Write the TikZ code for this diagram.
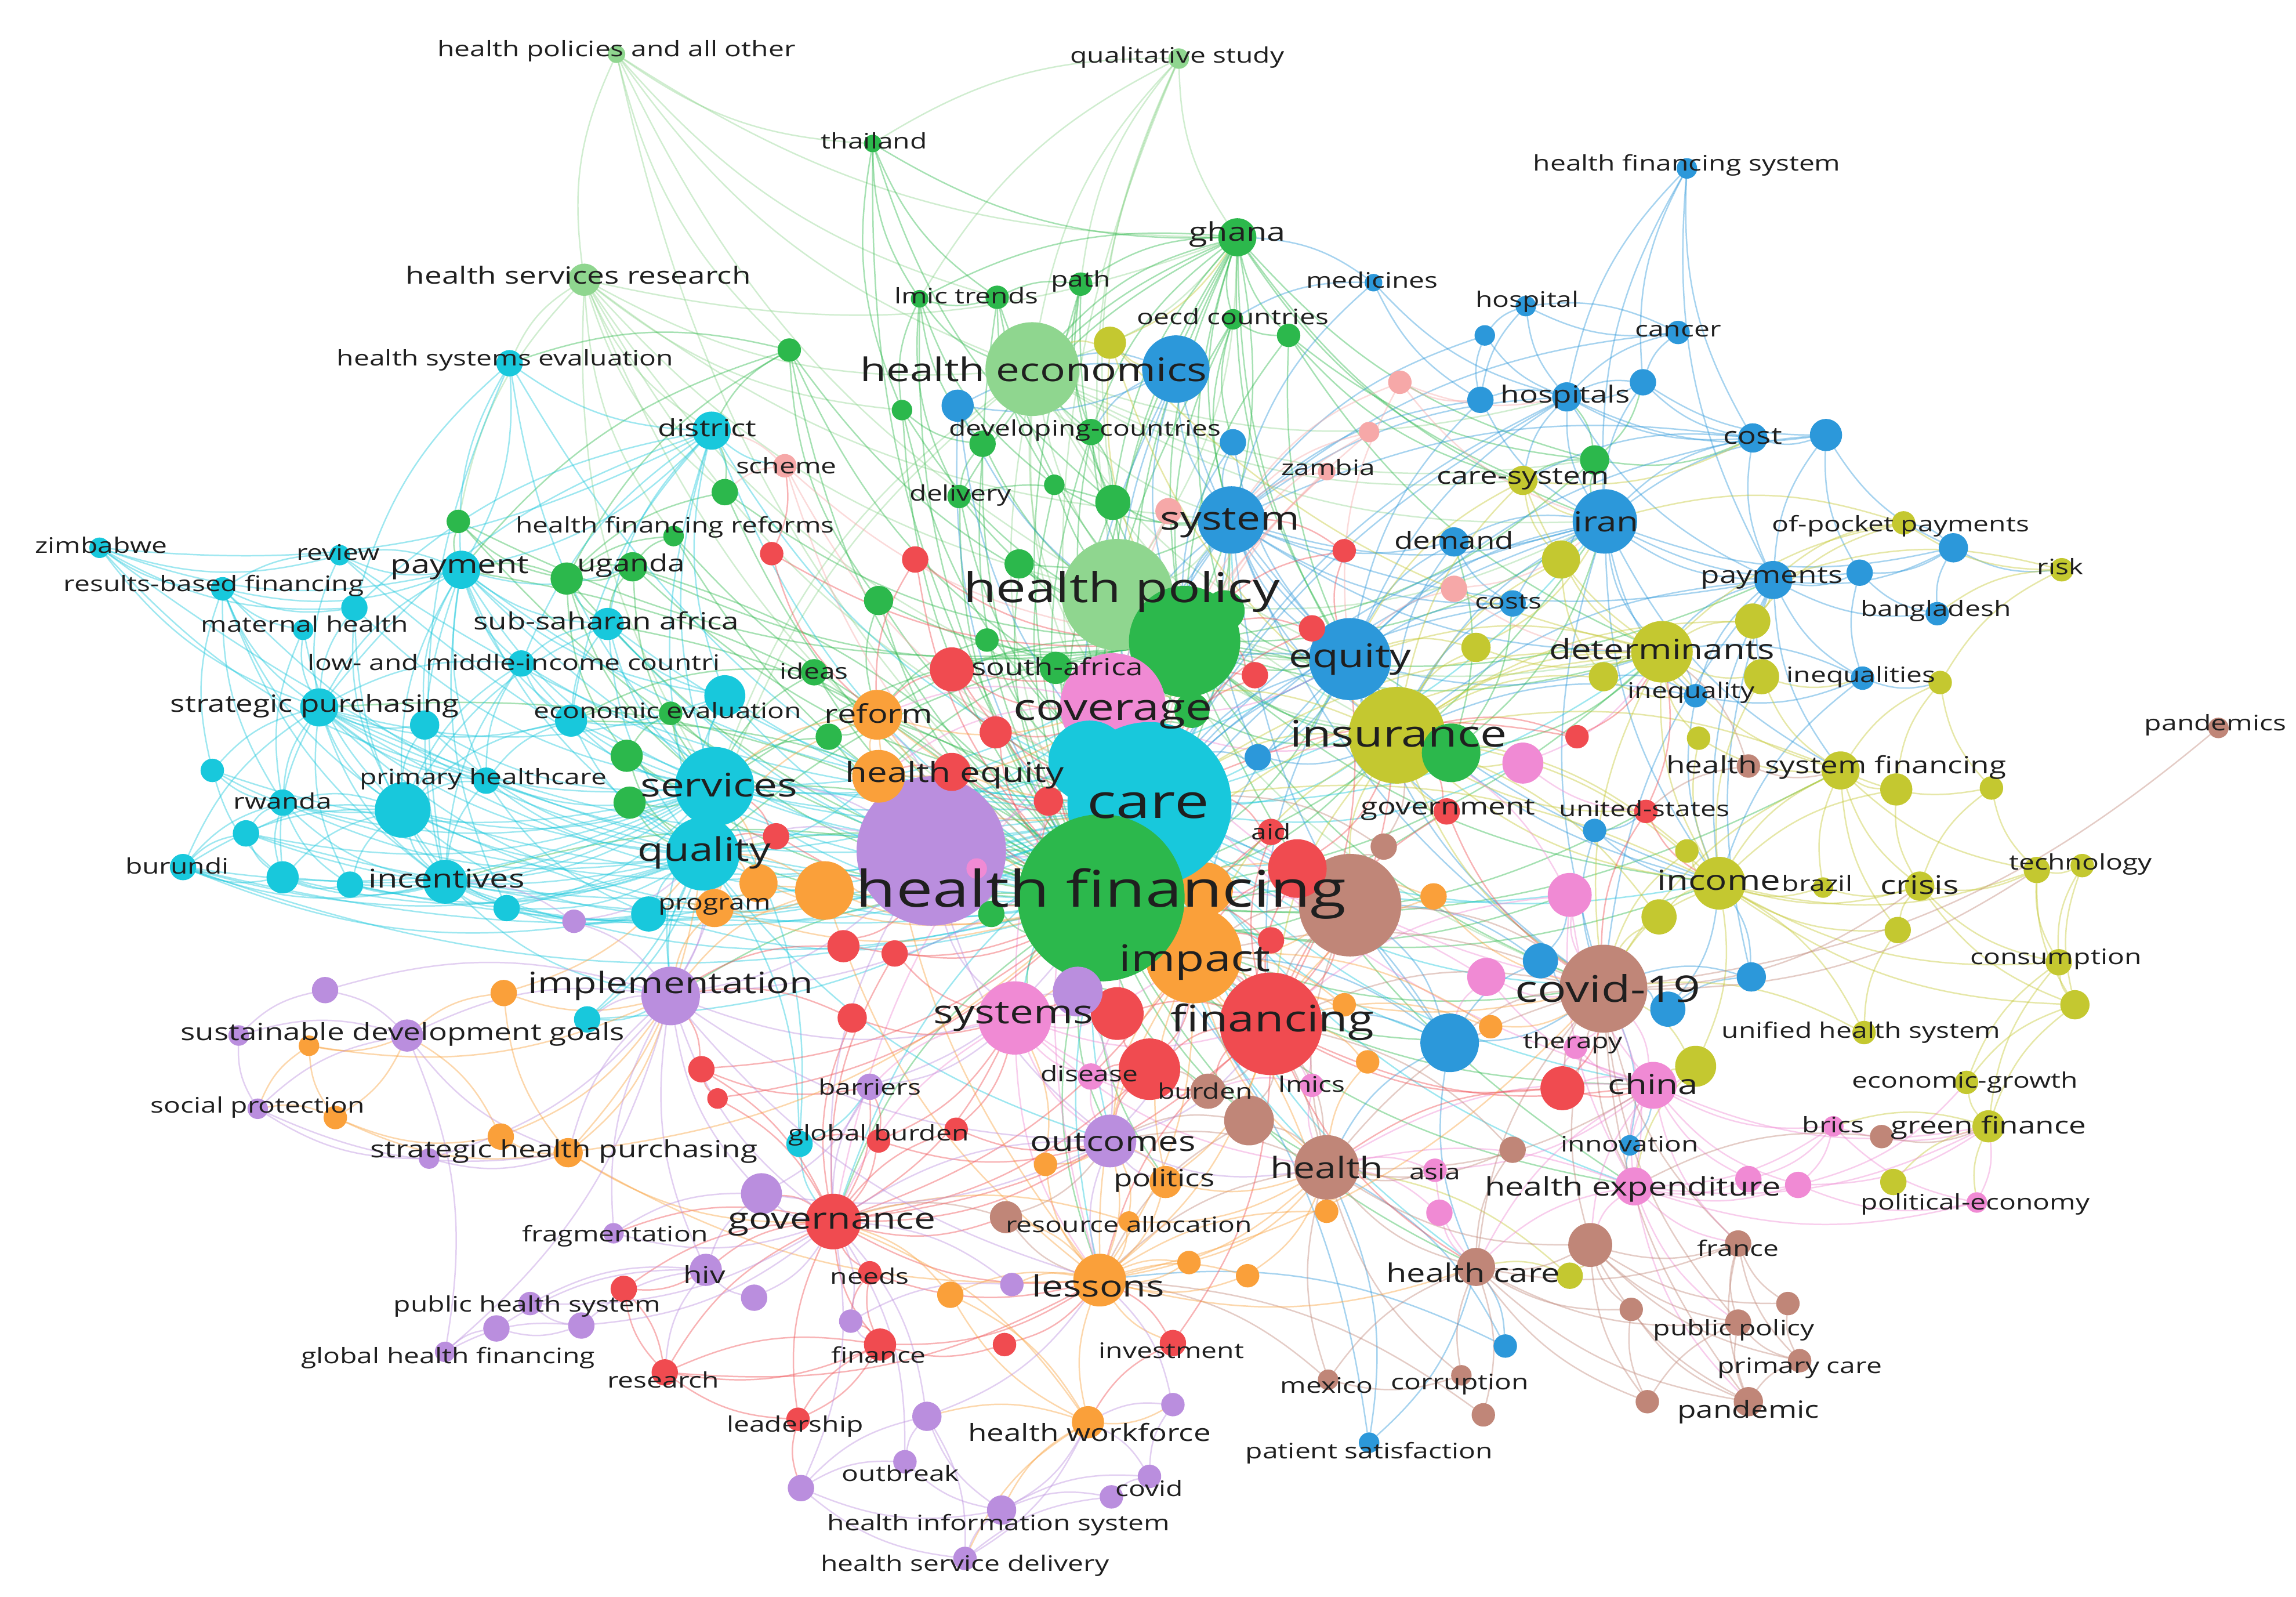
\documentclass[tikz,border=0pt]{standalone}
\usepackage{fontspec}
\setmainfont{Open Sans}[FakeStretch=1.3]
\pgfdeclarelayer{bglayer}
\pgfdeclarelayer{edgelayer}
\pgfdeclarelayer{labellayer}
\pgfsetlayers{bglayer,edgelayer,main,labellayer}
\definecolor{cR}{RGB}{240,75,80}
\definecolor{cG}{RGB}{44,184,76}
\definecolor{cLG}{RGB}{143,214,143}
\definecolor{cB}{RGB}{44,152,218}
\definecolor{cC}{RGB}{24,200,220}
\definecolor{cY}{RGB}{196,200,48}
\definecolor{cP}{RGB}{186,142,222}
\definecolor{cO}{RGB}{250,160,58}
\definecolor{cBr}{RGB}{192,134,120}
\definecolor{cPk}{RGB}{240,138,212}
\definecolor{cS}{RGB}{246,168,168}
\newcommand\szA{\fontsize{10.4pt}{12pt}\selectfont}
\newcommand\szB{\fontsize{11.5pt}{13pt}\selectfont}
\newcommand\szC{\fontsize{12.5pt}{14pt}\selectfont}
\newcommand\szD{\fontsize{13.4pt}{15pt}\selectfont}
\newcommand\szE{\fontsize{14.3pt}{16pt}\selectfont}
\newcommand\szF{\fontsize{15.8pt}{18pt}\selectfont}
\newcommand\szG{\fontsize{17.8pt}{20pt}\selectfont}
\newcommand\szH{\fontsize{20pt}{22pt}\selectfont}
\newcommand\szI{\fontsize{23pt}{25pt}\selectfont}
\newcommand\szJ{\fontsize{24.5pt}{27pt}\selectfont}
\newcommand\kn[5]{\node[nd=#4,fill=#5] (#1) at (#2,#3) {};}
\newcommand\klab[5]{\node[lab,font=#4] (L#1) at (#2,#3) {#5};}
\newcommand\kedges[3]{\foreach \kt in {#3}{\draw[edge,draw=#1] (#2) to[bend right=16] (\kt);}}
\begin{document}
\begin{tikzpicture}[x=0.025cm,y=-0.025cm,
  nd/.style={circle,inner sep=0pt,outer sep=0pt,draw=none,minimum size=#1*0.05cm},
  lab/.style={inner sep=0pt,outer sep=0pt,text=black!88},
  edge/.style={line width=0.7pt,opacity=0.42}]
\begin{pgfonlayer}{bglayer}
\fill[white] (0,0) rectangle (1568,1090);
\end{pgfonlayer}
\useasboundingbox (0,0) rectangle (1568,1090);
% ---------- large nodes (ordered) ----------
\kn{hpolLG}{763}{406}{38}{cLG}
\kn{hpol}{809}{438}{38}{cG}
\kn{hecon}{705}{252}{32}{cLG}
\kn{b1}{803}{252}{23}{cB}
\kn{brbig}{922}{618}{35}{cBr}
\kn{r15}{886}{593}{20}{cR}
\kn{impact}{815}{652}{33}{cO}
\kn{o13}{824}{607}{18}{cO}
\kn{purpbig}{636}{581}{51}{cP}
\kn{coverage}{760}{482}{36}{cPk}
\kn{c13}{744}{520}{28}{cC}
\kn{care}{785}{549}{56}{cC}
\kn{hf}{752}{613}{57}{cG}
\kn{insur}{954}{502}{33}{cY}
\kn{g16}{991}{514}{20}{cG}
\kn{equity}{922}{450}{28}{cB}
\kn{financing}{868}{699}{35}{cR}
\kn{covid19}{1095}{675}{30}{cBr}
\kn{systems}{693}{695}{25}{cPk}
\kn{services}{488}{537}{27}{cC}
\kn{quality}{480}{583}{25}{cC}
\kn{system}{841}{355}{23}{cB}
\kn{iran}{1096}{356}{22}{cB}
\kn{health}{906}{797}{22}{cBr}
\kn{determ}{1135}{445}{21}{cY}
\kn{impl}{458}{680}{20}{cP}
\kn{gov}{569}{834}{19}{cR}
\kn{r4}{785}{730}{21}{cR}
\kn{r17}{763}{692}{18}{cR}
\kn{p15}{736}{677}{17}{cP}
\kn{b15}{990}{712}{20}{cB}
\kn{outcomes}{758}{779}{18}{cP}
\kn{lessons}{751}{874}{18}{cO}
\kn{income}{1174}{603}{18}{cY}
\kn{c5}{275}{553}{19}{cC}
\kn{o12}{563}{608}{20}{cO}
\kn{heq}{600}{530}{18}{cO}
\kn{reform}{599}{488}{17}{cO}
\kn{br1}{853}{765}{17}{cBr}
% ---------- other nodes ----------
\kn{hpao}{421}{37}{6}{cLG}
\kn{qual}{805}{40}{7}{cLG}
\kn{thai}{596}{98}{6}{cG}
\kn{hfs}{1152}{115}{7}{cB}
\kn{ghana}{845}{162}{13}{cG}
\kn{hsr}{399}{191}{11}{cLG}
\kn{medic}{938}{193}{6}{cB}
\kn{lmic}{628}{204}{6}{cG}
\kn{lmicB}{681}{203}{8}{cG}
\kn{path}{738}{194}{8}{cG}
\kn{oecd}{842}{218}{7}{cG}
\kn{g1}{880}{229}{8}{cG}
\kn{y1}{758}{234}{11}{cY}
\kn{hosp}{1042}{209}{7}{cB}
\kn{cancer}{1146}{227}{8}{cB}
\kn{hosps}{1070}{271}{10}{cB}
\kn{b2}{1122}{261}{9}{cB}
\kn{b3}{1014}{229}{7}{cB}
\kn{s1}{956}{261}{8}{cS}
\kn{b4}{1011}{273}{9}{cB}
\kn{b5}{654}{277}{11}{cB}
\kn{g2}{616}{280}{7}{cG}
\kn{g3}{539}{239}{8}{cG}
\kn{devc}{745}{295}{9}{cG}
\kn{g4}{671}{303}{9}{cG}
\kn{b6}{842}{302}{9}{cB}
\kn{s2}{935}{295}{7}{cS}
\kn{zambia}{906}{322}{6}{cS}
\kn{scheme}{536}{318}{8}{cS}
\kn{deliv}{655}{339}{8}{cG}
\kn{g5}{720}{331}{7}{cG}
\kn{g6}{760}{343}{12}{cG}
\kn{s3}{798}{349}{9}{cS}
\kn{csys}{1040}{328}{10}{cY}
\kn{g7}{1089}{314}{10}{cG}
\kn{cost}{1197}{299}{10}{cB}
\kn{b7}{1247}{297}{11}{cB}
\kn{oop}{1300}{357}{8}{cY}
\kn{hse}{348}{248}{9}{cC}
\kn{district}{486}{294}{13}{cC}
\kn{g8}{495}{336}{9}{cG}
\kn{g9}{313}{356}{8}{cG}
\kn{hfr}{460}{366}{7}{cG}
\kn{zimb}{68}{374}{7}{cC}
\kn{review}{232}{379}{7}{cC}
\kn{payment}{315}{389}{13}{cC}
\kn{g10}{387}{395}{11}{cG}
\kn{uganda}{432}{387}{10}{cG}
\kn{rbf}{152}{402}{8}{cC}
\kn{c1}{242}{415}{9}{cC}
\kn{mat}{207}{430}{7}{cC}
\kn{ssa}{415}{426}{11}{cC}
\kn{lmi}{356}{453}{9}{cC}
\kn{strat}{218}{483}{13}{cC}
\kn{c2}{290}{495}{10}{cC}
\kn{econ}{390}{492}{11}{cC}
\kn{g11}{458}{487}{8}{cG}
\kn{c3}{495}{475}{14}{cC}
\kn{g12}{428}{516}{11}{cG}
\kn{c4}{145}{526}{8}{cC}
\kn{phc}{332}{533}{9}{cC}
\kn{rwanda}{193}{548}{9}{cC}
\kn{g13}{430}{548}{11}{cG}
\kn{c6}{168}{569}{9}{cC}
\kn{burundi}{125}{592}{9}{cC}
\kn{c7}{193}{599}{11}{cC}
\kn{c8}{239}{604}{9}{cC}
\kn{incent}{304}{602}{15}{cC}
\kn{c9}{346}{620}{9}{cC}
\kn{o1}{518}{603}{13}{cO}
\kn{c10}{443}{624}{12}{cC}
\kn{program}{488}{620}{13}{cO}
\kn{p1}{392}{629}{8}{cP}
\kn{o2}{344}{678}{9}{cO}
\kn{p2}{222}{676}{9}{cP}
\kn{c11}{401}{696}{9}{cC}
\kn{sdg}{278}{707}{11}{cP}
\kn{p3}{163}{707}{7}{cP}
\kn{o3}{211}{714}{7}{cO}
\kn{r0}{530}{571}{9}{cR}
\kn{socp}{176}{757}{7}{cP}
\kn{o4}{229}{763}{8}{cO}
\kn{o5}{342}{776}{9}{cO}
\kn{p4}{293}{791}{7}{cP}
\kn{shp}{388}{787}{10}{cO}
\kn{r1}{479}{730}{9}{cR}
\kn{r2}{490}{750}{7}{cR}
\kn{p5}{520}{815}{14}{cP}
\kn{frag}{419}{842}{7}{cP}
\kn{hiv}{482}{867}{11}{cP}
\kn{r3}{426}{880}{9}{cR}
\kn{phs}{362}{890}{8}{cP}
\kn{p6}{339}{907}{9}{cP}
\kn{p7}{397}{905}{9}{cP}
\kn{p8}{515}{886}{9}{cP}
\kn{ghf}{304}{923}{7}{cP}
\kn{research}{454}{937}{9}{cR}
\kn{barriers}{594}{742}{9}{cP}
\kn{disease}{745}{735}{9}{cPk}
\kn{burden}{825}{745}{12}{cBr}
\kn{lmics}{896}{741}{8}{cPk}
\kn{c12}{546}{781}{9}{cC}
\kn{gburden}{600}{779}{8}{cR}
\kn{r5}{653}{771}{8}{cR}
\kn{o6}{714}{795}{8}{cO}
\kn{politics}{796}{807}{11}{cO}
\kn{asia}{980}{799}{8}{cPk}
\kn{br2}{1033}{785}{9}{cBr}
\kn{o7}{906}{827}{8}{cO}
\kn{pk1}{983}{828}{9}{cPk}
\kn{br3}{687}{831}{11}{cBr}
\kn{resal}{771}{834}{7}{cO}
\kn{needs}{594}{869}{8}{cR}
\kn{p9}{691}{877}{8}{cP}
\kn{o8}{649}{884}{9}{cO}
\kn{o9}{812}{862}{8}{cO}
\kn{o10}{852}{871}{8}{cO}
\kn{p10}{581}{902}{8}{cP}
\kn{finance}{601}{918}{11}{cR}
\kn{r6}{686}{918}{8}{cR}
\kn{invest}{801}{917}{9}{cR}
\kn{mexico}{907}{942}{7}{cBr}
\kn{corrup}{998}{939}{7}{cBr}
\kn{b8}{1028}{919}{8}{cB}
\kn{leader}{545}{969}{8}{cR}
\kn{p11}{633}{967}{10}{cP}
\kn{hwf}{743}{971}{11}{cO}
\kn{p12}{801}{959}{8}{cP}
\kn{br4}{1013}{966}{8}{cBr}
\kn{patsat}{935}{985}{7}{cB}
\kn{outbreak}{618}{998}{8}{cP}
\kn{covid}{785}{1008}{8}{cP}
\kn{p13}{547}{1016}{9}{cP}
\kn{p14}{759}{1022}{8}{cP}
\kn{his}{684}{1031}{10}{cP}
\kn{hsd}{659}{1064}{8}{cP}
\kn{china}{1129}{741}{16}{cPk}
\kn{r7}{1067}{743}{15}{cR}
\kn{y2}{1158}{728}{14}{cY}
\kn{innov}{1113}{782}{7}{cB}
\kn{hexp}{1116}{810}{13}{cPk}
\kn{pk2}{1194}{805}{9}{cPk}
\kn{pk3}{1228}{809}{9}{cPk}
\kn{brics}{1252}{769}{7}{cPk}
\kn{br5}{1285}{776}{8}{cBr}
\kn{gfin}{1358}{769}{11}{cY}
\kn{egrowth}{1343}{739}{8}{cY}
\kn{y3}{1293}{807}{9}{cY}
\kn{peco}{1350}{821}{7}{cPk}
\kn{br6}{1086}{850}{15}{cBr}
\kn{france}{1187}{849}{9}{cBr}
\kn{y4}{1072}{871}{9}{cY}
\kn{br7}{1114}{894}{8}{cBr}
\kn{br8}{1221}{890}{8}{cBr}
\kn{pubpol}{1187}{903}{9}{cBr}
\kn{pcare}{1229}{929}{8}{cBr}
\kn{br9}{1125}{957}{8}{cBr}
\kn{pandemic}{1194}{957}{10}{cBr}
\kn{hcare}{1008}{865}{13}{cBr}
\kn{therapy}{1076}{715}{8}{cPk}
\kn{y5}{1066}{382}{13}{cY}
\kn{payments}{1211}{396}{13}{cB}
\kn{b9}{1270}{391}{9}{cB}
\kn{b10}{1334}{374}{10}{cB}
\kn{risk}{1408}{389}{8}{cY}
\kn{bangla}{1323}{419}{8}{cB}
\kn{y6}{1197}{424}{12}{cY}
\kn{y7}{1095}{462}{10}{cY}
\kn{y8}{1203}{462}{12}{cY}
\kn{ineq}{1158}{475}{8}{cB}
\kn{ineqs}{1272}{463}{8}{cB}
\kn{y9}{1325}{466}{8}{cY}
\kn{r8}{1077}{503}{8}{cR}
\kn{y10}{1160}{504}{8}{cY}
\kn{pandemics}{1515}{497}{7}{cBr}
\kn{br10}{1194}{523}{8}{cBr}
\kn{hsf}{1257}{526}{13}{cY}
\kn{y11}{1295}{539}{11}{cY}
\kn{y12}{1360}{538}{8}{cY}
\kn{us}{1124}{554}{8}{cR}
\kn{b11}{1089}{567}{8}{cB}
\kn{y13}{1152}{581}{8}{cY}
\kn{brazil}{1245}{606}{7}{cY}
\kn{crisis}{1311}{605}{10}{cY}
\kn{techno}{1391}{594}{9}{cY}
\kn{y14}{1422}{591}{8}{cY}
\kn{pk4}{1072}{611}{15}{cPk}
\kn{y15}{1133}{626}{12}{cY}
\kn{y16}{1296}{635}{9}{cY}
\kn{consum}{1406}{657}{9}{cY}
\kn{y17}{1417}{686}{10}{cY}
\kn{b12}{1196}{667}{10}{cB}
\kn{b13}{1139}{689}{12}{cB}
\kn{b14}{1052}{656}{12}{cB}
\kn{uhs}{1273}{705}{8}{cY}
\kn{pk5}{1015}{667}{13}{cPk}
\kn{o11}{1018}{701}{8}{cO}
\kn{g14}{814}{485}{12}{cG}
\kn{g15}{836}{417}{14}{cG}
\kn{r9}{896}{429}{9}{cR}
\kn{r10}{857}{461}{9}{cR}
\kn{b16}{859}{517}{9}{cB}
\kn{r11}{650}{457}{15}{cR}
\kn{safr}{721}{456}{11}{cG}
\kn{g18}{566}{503}{9}{cG}
\kn{r12}{680}{500}{11}{cR}
\kn{r13}{650}{527}{13}{cR}
\kn{r14}{716}{547}{10}{cR}
\kn{pk6}{667}{593}{7}{cPk}
\kn{g19}{677}{624}{9}{cG}
\kn{aid}{868}{568}{9}{cR}
\kn{govt}{988}{554}{9}{cR}
\kn{br11}{945}{578}{9}{cBr}
\kn{o14}{979}{612}{9}{cO}
\kn{r16}{868}{642}{9}{cR}
\kn{o15}{918}{686}{8}{cO}
\kn{o16}{934}{725}{8}{cO}
\kn{r18}{576}{646}{11}{cR}
\kn{r19}{611}{651}{9}{cR}
\kn{r20}{582}{695}{10}{cR}
\kn{ideas}{556}{459}{9}{cG}
\kn{g20}{600}{410}{10}{cG}
\kn{g21}{696}{385}{10}{cG}
\kn{g22}{674}{437}{8}{cG}
\kn{r21}{625}{382}{9}{cR}
\kn{r22}{527}{378}{8}{cR}
\kn{r23}{918}{376}{8}{cR}
\kn{s4}{993}{402}{9}{cS}
\kn{costs}{1033}{412}{9}{cB}
\kn{demand}{993}{370}{10}{cB}
\kn{y18}{1008}{442}{10}{cY}
\kn{pk7}{1040}{521}{14}{cPk}
% ---------- edges ----------
\begin{pgfonlayer}{edgelayer}
% light green
\kedges{cLG}{hpao}{hsr,hecon,hpolLG,thai,lmicB,g3,hf,ghana}
\kedges{cLG}{qual}{ghana,hecon,lmic,thai,hpolLG,path,g6,hf}
\kedges{cLG}{hsr}{hse,hecon,hpolLG,hf,care,district,g8,hfr,ghana,services,coverage,system,g2,g9}
\kedges{cLG}{hecon}{hf,care,hpol,coverage,system,equity,insur,ghana,path,devc,iran,g7,csys,services,quality,hosps}
\kedges{cLG}{hpolLG}{hf,care,insur,equity,iran,determ,covid19,impact,financing,system,ghana}
% green
\kedges{cG}{thai}{lmic,lmicB,ghana,g2,hf,g6}
\kedges{cG}{ghana}{path,oecd,g1,hecon,hpol,hf,devc,g6,system,lmic,g7,care,insur,equity,csys,iran,g4,deliv,coverage,g15}
\kedges{cG}{lmic}{lmicB,g4,g2,deliv,hf,hecon,g5}
\kedges{cG}{lmicB}{g5,hpol,hf,devc}
\kedges{cG}{path}{g6,hpol,hf,lmicB,devc}
\kedges{cG}{oecd}{g1,hpol,system,hf,b6}
\kedges{cG}{g1}{csys,g7,hpol,insur,determ}
\kedges{cG}{g3}{hse,district,hf,hpol,payment,g10,coverage,g20}
\kedges{cG}{g2}{hf,hpol,g4,care}
\kedges{cG}{g4}{hf,hpol,deliv}
\kedges{cG}{g5}{hpol,hf,system}
\kedges{cG}{g6}{system,hpol,hf,devc,deliv}
\kedges{cG}{g7}{csys,iran,cost,hosps,b2}
\kedges{cG}{g8}{district,hf,hpol,g10}
\kedges{cG}{g9}{payment,hpol,hf,g10}
\kedges{cG}{hfr}{hf,care,g10,uganda}
\kedges{cG}{hpol}{hf,care,coverage,insur,equity,g16,determ,iran,system,reform,heq,services,quality,impact,financing,covid19,hexp,g7,ghana,g14,payments,income}
\kedges{cG}{hf}{care,coverage,insur,equity,services,quality,impact,financing,systems,covid19,brbig,purpbig,reform,heq,gov,lessons,outcomes,health,impl,china,hexp,income,determ,iran,system,payment,uganda,ssa,econ,strat,incent,r15,r17,hcare,politics,burden,pk4,b15,hsf,us,govt,aid}
\kedges{cG}{g10}{uganda,payment,ssa,services,g12,hf}
\kedges{cG}{uganda}{ssa,g10,hpol,care,services}
\kedges{cG}{g11}{econ,services,hf,g12}
\kedges{cG}{g12}{services,quality,hf}
\kedges{cG}{g13}{services,quality,hf}
\kedges{cG}{g16}{insur,equity,iran,hpol,costs,demand,determ}
\kedges{cG}{safr}{coverage,hpol,r11,care}
\kedges{cG}{g14}{care,coverage,insur}
\kedges{cG}{g15}{hpol,hf,equity}
\kedges{cG}{g18}{reform,hf,services}
\kedges{cG}{g19}{hf,purpbig}
\kedges{cG}{g20}{hpol,hf,care,reform}
\kedges{cG}{g21}{hpol,hf,system}
\kedges{cG}{g22}{hpol,care,reform}
\kedges{cG}{ideas}{reform,services,hf,econ}
\kedges{cG}{deliv}{hf,hpol,care}
\kedges{cG}{devc}{hf,hpol,care}
% cyan
\kedges{cC}{zimb}{rbf,payment,c1,review,strat,phc,district,hf}
\kedges{cC}{review}{payment,rbf,strat,hf,care}
\kedges{cC}{rbf}{payment,strat,mat,c4,c5,c1,quality,incent,rwanda}
\kedges{cC}{payment}{ssa,strat,lmi,incent,c5,services,quality,care,hf,c2,econ,hse,district,c3,phc,c9,uganda,review}
\kedges{cC}{hse}{district,payment,c1,services,hf,incent}
\kedges{cC}{district}{ssa,c3,services,quality,care,hf,c1,strat,scheme,econ,lmi}
\kedges{cC}{c1}{strat,c5,services,incent}
\kedges{cC}{mat}{strat,c5,rwanda}
\kedges{cC}{ssa}{lmi,econ,c3,services,quality,care,hf,c5}
\kedges{cC}{lmi}{strat,econ,c5,services,care,phc,incent}
\kedges{cC}{strat}{c2,c5,rwanda,incent,phc,services,quality,care,hf,c4,c7,burundi,c8,econ,c3,program}
\kedges{cC}{c2}{c5,services,quality}
\kedges{cC}{econ}{services,quality,care,c3,c5,phc}
\kedges{cC}{c3}{services,care,quality,hf}
\kedges{cC}{c4}{rwanda,c5,c7,services}
\kedges{cC}{phc}{c5,services,quality,incent,care,c10}
\kedges{cC}{c5}{rwanda,incent,services,quality,care,hf,c7,c8,c9,c10,burundi,c6}
\kedges{cC}{rwanda}{burundi,c6,c7,c8,incent,services,quality,care}
\kedges{cC}{c6}{burundi,c7,services,quality,care}
\kedges{cC}{burundi}{c7,incent,quality,services,care,hf,c10}
\kedges{cC}{c7}{incent,c8,quality,services}
\kedges{cC}{c8}{incent,quality,services,care}
\kedges{cC}{incent}{c9,quality,services,care,hf,c10,program,impl}
\kedges{cC}{c9}{quality,services,c10,care}
\kedges{cC}{services}{quality,care,hf,coverage,c13,impl,hpol,equity}
\kedges{cC}{quality}{care,hf,c10,impl,coverage,outcomes,heq}
\kedges{cC}{c10}{care,hf}
\kedges{cC}{c11}{impl,quality,services,care}
\kedges{cC}{c12}{gov,barriers,quality,services}
\kedges{cC}{c13}{coverage,care}
\kedges{cC}{care}{coverage,insur,equity,system,impact,financing,brbig,covid19,hexp,income,determ,iran,health,outcomes,systems,gov,lessons,china,hcare,b15,pk4,pk7,r15}
% blue
\kedges{cB}{hfs}{hosps,iran,b2,cost,payments}
\kedges{cB}{medic}{ghana,hosps,b4,system,oecd}
\kedges{cB}{hosp}{hosps,cancer,b4,b3}
\kedges{cB}{cancer}{b2,hosps,hosp,system}
\kedges{cB}{b2}{hosps,cost,iran,b7}
\kedges{cB}{b3}{hosps,b4,system}
\kedges{cB}{hosps}{iran,system,cost,csys,b4,b2,payments,care,hf,equity,b7}
\kedges{cB}{b4}{system,iran,equity}
\kedges{cB}{cost}{iran,b7,system,csys,payments,equity}
\kedges{cB}{b7}{iran,b9,payments,b10}
\kedges{cB}{b1}{hecon,system,hf,care,equity,hpol,b5,devc}
\kedges{cB}{b5}{hf,care,hpol,b1}
\kedges{cB}{b6}{system,equity,hpol}
\kedges{cB}{system}{iran,equity,care,hf,insur,hpol,payments,costs,demand,coverage,b16,determ,income,covid19,b15}
\kedges{cB}{iran}{equity,insur,determ,payments,care,hf,costs,demand,y5,income,b9,b10,hsf,ineq,covid19}
\kedges{cB}{demand}{equity,insur,costs}
\kedges{cB}{costs}{equity,insur,care}
\kedges{cB}{equity}{insur,care,hf,determ,income,coverage,covid19,financing,impact,govt}
\kedges{cB}{payments}{b9,b10,bangla,determ,y8,insur,ineq,ineqs,covid19,income,hsf,b12}
\kedges{cB}{b9}{b10,bangla,ineqs}
\kedges{cB}{b10}{bangla,risk,oop}
\kedges{cB}{ineq}{determ,income,insur,y7,ineqs}
\kedges{cB}{ineqs}{determ,income,y9}
\kedges{cB}{b11}{us,income,covid19}
\kedges{cB}{b12}{covid19,income,b13}
\kedges{cB}{b13}{covid19,income}
\kedges{cB}{b14}{covid19,b15,pk4,brbig}
\kedges{cB}{b15}{covid19,financing,impact,brbig,hcare,health,care}
\kedges{cB}{b16}{care,insur,equity}
\kedges{cB}{innov}{china,hexp,covid19}
\kedges{cB}{b8}{hcare,health,lessons}
\kedges{cB}{patsat}{hcare,health,hf}
% yellow
\kedges{cY}{y1}{hecon,ghana,insur,hpol,determ,b1}
\kedges{cY}{csys}{iran,insur,determ,y5,cost,equity}
\kedges{cY}{oop}{payments,risk,determ,y6,iran}
\kedges{cY}{y5}{determ,insur,y7}
\kedges{cY}{risk}{payments,bangla,y9}
\kedges{cY}{y6}{determ,payments,insur,y8}
\kedges{cY}{determ}{insur,income,hsf,y7,y8,ineq,y10,covid19,equity,hf,care}
\kedges{cY}{y7}{insur,ineq}
\kedges{cY}{y8}{hsf,income,ineqs}
\kedges{cY}{y9}{hsf,y12,y11}
\kedges{cY}{y10}{income,hsf}
\kedges{cY}{hsf}{income,y11,y12,crisis,insur,brazil,covid19,y16,techno}
\kedges{cY}{y11}{crisis,income}
\kedges{cY}{y12}{crisis,techno}
\kedges{cY}{y13}{income,covid19,insur}
\kedges{cY}{income}{insur,crisis,brazil,covid19,care,y15,techno,consum,y16,y17}
\kedges{cY}{brazil}{crisis}
\kedges{cY}{crisis}{techno,y16,consum,y17}
\kedges{cY}{techno}{y14,consum,y17}
\kedges{cY}{y14}{consum,y17}
\kedges{cY}{consum}{y17,gfin,egrowth}
\kedges{cY}{y17}{egrowth,gfin}
\kedges{cY}{y15}{covid19,insur}
\kedges{cY}{y16}{uhs}
\kedges{cY}{uhs}{covid19,income}
\kedges{cY}{insur}{care,coverage,financing,impact,brbig,covid19,income,pk7,govt,us}
\kedges{cY}{y2}{china,covid19,hexp,income}
\kedges{cY}{egrowth}{gfin}
\kedges{cY}{gfin}{y3,brics,peco}
\kedges{cY}{y4}{hcare,br6,health}
\kedges{cY}{y18}{equity,insur,determ,iran}
% pink
\kedges{cPk}{coverage}{care,insur,equity,reform,heq,systems,impact,financing,covid19,china,gov,lessons}
\kedges{cPk}{systems}{impact,financing,outcomes,gov,barriers,lessons,health,disease,burden,p15,r17}
\kedges{cPk}{pk4}{covid19,china,hexp,financing,insur}
\kedges{cPk}{pk5}{covid19,b15,hf,china}
\kedges{cPk}{pk7}{us,determ}
\kedges{cPk}{therapy}{covid19,china,r7}
\kedges{cPk}{china}{hexp,covid19,r7,y2,pk2,pk3,brics,health,hcare,innov,br6,france,gfin}
\kedges{cPk}{hexp}{pk2,pk3,covid19,health,hcare,br6,brics,france,pubpol,pandemic,peco,gfin}
\kedges{cPk}{pk2}{pk3,brics}
\kedges{cPk}{pk3}{peco,gfin,brics,egrowth}
\kedges{cPk}{brics}{peco,gfin}
\kedges{cPk}{peco}{gfin}
\kedges{cPk}{disease}{r4,burden,outcomes,hf}
\kedges{cPk}{lmics}{health,burden,financing,hf}
\kedges{cPk}{asia}{health,hcare,china}
\kedges{cPk}{pk1}{health,hcare}
\kedges{cPk}{pk6}{purpbig}
% brown
\kedges{cBr}{covid19}{financing,impact,brbig,health,hcare,hexp,r7,b15,pandemics,br6,france,pandemic,pubpol,techno,crisis}
\kedges{cBr}{brbig}{financing,impact,health,r15}
\kedges{cBr}{health}{hcare,br6,mexico,corrup,financing,impact,lessons,outcomes,br1,asia,br2,china}
\kedges{cBr}{hcare}{br6,br7,br9,pandemic,pubpol,corrup,mexico,france}
\kedges{cBr}{br6}{france,pubpol,pandemic,br8,br7,br9,pcare}
\kedges{cBr}{france}{pubpol,pandemic,br8,pcare}
\kedges{cBr}{pubpol}{pandemic,pcare,br9}
\kedges{cBr}{pcare}{pandemic}
\kedges{cBr}{br1}{burden,financing,lessons,outcomes}
\kedges{cBr}{burden}{r4,financing}
\kedges{cBr}{br3}{lessons,gov,outcomes}
\kedges{cBr}{br2}{hcare,financing}
\kedges{cBr}{mexico}{corrup,lessons}
\kedges{cBr}{br4}{hcare,lessons}
\kedges{cBr}{br5}{gfin,hexp}
\kedges{cBr}{br7}{br9,pandemic}
\kedges{cBr}{br10}{hsf,determ,us}
\kedges{cBr}{br11}{brbig,care,insur}
\kedges{cBr}{br8}{pcare}
% red
\kedges{cR}{gov}{lessons,financing,impact,r1,r2,needs,finance,research,leader,hiv,r3,outcomes,barriers,gburden,systems,r4,p5,frag,br3}
\kedges{cR}{financing}{impact,insur,brbig,lessons,r4,r17,burden,equity,hcare,china,r7}
\kedges{cR}{r4}{impact,outcomes,disease,burden}
\kedges{cR}{r17}{systems,r4}
\kedges{cR}{r15}{impact,financing,insur}
\kedges{cR}{aid}{care,financing,impact}
\kedges{cR}{govt}{insur,covid19,financing}
\kedges{cR}{us}{income,covid19,determ}
\kedges{cR}{r7}{covid19,china,health}
\kedges{cR}{r8}{insur,determ,care}
\kedges{cR}{needs}{finance,lessons,p10}
\kedges{cR}{finance}{lessons,r6,research,leader,p10}
\kedges{cR}{research}{r3,finance,lessons,leader}
\kedges{cR}{leader}{p13,finance}
\kedges{cR}{invest}{lessons,hwf,financing}
\kedges{cR}{r6}{lessons}
\kedges{cR}{r3}{research,hiv}
\kedges{cR}{r1}{r2,barriers,impl,hf}
\kedges{cR}{r2}{hf}
\kedges{cR}{gburden}{barriers,c12,systems,outcomes}
\kedges{cR}{r5}{outcomes,systems,gov}
\kedges{cR}{r9}{equity,hpol,care}
\kedges{cR}{r10}{care,hpol,coverage}
\kedges{cR}{r11}{reform,coverage,hpol,care,r12}
\kedges{cR}{r12}{care,hf,coverage}
\kedges{cR}{r13}{care,hf,heq,purpbig}
\kedges{cR}{r14}{care,hf,coverage}
\kedges{cR}{r18}{hf,purpbig,impl}
\kedges{cR}{r19}{hf,systems,gov}
\kedges{cR}{r20}{impl,systems,gov}
\kedges{cR}{r0}{quality,hf,services}
\kedges{cR}{r16}{hf,impact,financing}
\kedges{cR}{r21}{hf,hpol,reform}
\kedges{cR}{r22}{hpol,scheme,reform}
\kedges{cR}{r23}{system,equity,hpol}
% salmon
\kedges{cS}{scheme}{district,hf,care,hpol,g8}
\kedges{cS}{s1}{b4,iran,system,hosps,equity}
\kedges{cS}{s2}{system,care,hpol}
\kedges{cS}{zambia}{system,care,hf}
\kedges{cS}{s3}{system,hf,care}
\kedges{cS}{s4}{equity,iran,determ}
% orange
\kedges{cO}{reform}{coverage,care,heq,services,quality,impact,lessons}
\kedges{cO}{heq}{care,coverage,purpbig}
\kedges{cO}{o12}{hf,purpbig,quality,program,impl,lessons}
\kedges{cO}{o1}{quality,services,hf}
\kedges{cO}{program}{quality,impl,hf,services,o12,c10}
\kedges{cO}{impact}{financing,brbig,covid19,lessons,health,outcomes,systems,politics}
\kedges{cO}{o13}{hf,impact,care}
\kedges{cO}{lessons}{financing,impact,outcomes,politics,health,hwf,invest,o8,o9,o10,p9,resal,br3,hcare,covid19}
\kedges{cO}{hwf}{his,hsd,p11,p12,o8,gov}
\kedges{cO}{politics}{outcomes,health,financing}
\kedges{cO}{resal}{gov,outcomes,health}
\kedges{cO}{o8}{hwf,gov}
\kedges{cO}{o9}{lessons,health}
\kedges{cO}{o10}{lessons,health}
\kedges{cO}{o6}{outcomes,systems,lessons}
\kedges{cO}{o7}{health,lessons,hf}
\kedges{cO}{o2}{impl,sdg,shp,quality}
\kedges{cO}{o3}{sdg,socp,impl,o4}
\kedges{cO}{o4}{shp,sdg,socp,o5}
\kedges{cO}{o5}{shp,impl,sdg}
\kedges{cO}{shp}{impl,gov,quality,hf,lessons}
\kedges{cO}{o11}{financing,impact,covid19}
\kedges{cO}{o14}{financing,hf,covid19}
\kedges{cO}{o15}{financing,impact}
\kedges{cO}{o16}{financing,health}
% purple
\kedges{cP}{impl}{care,quality,services,purpbig,outcomes,gov,lessons,sdg,p2,shp,p1,hiv,p5,c11,systems,frag}
\kedges{cP}{purpbig}{care,quality,services,systems,coverage,reform,heq,outcomes,gov}
\kedges{cP}{sdg}{p2,p3,socp,shp}
\kedges{cP}{p2}{p3}
\kedges{cP}{p3}{socp}
\kedges{cP}{socp}{p4,shp}
\kedges{cP}{p4}{shp,impl}
\kedges{cP}{p1}{incent,quality}
\kedges{cP}{p5}{gov,hiv,outcomes,frag,barriers}
\kedges{cP}{frag}{gov}
\kedges{cP}{hiv}{phs,p6,p7,research,p8}
\kedges{cP}{phs}{p7,gov}
\kedges{cP}{p6}{p7,ghf}
\kedges{cP}{p7}{gov,ghf}
\kedges{cP}{ghf}{sdg,impl}
\kedges{cP}{p8}{gov}
\kedges{cP}{outcomes}{impact,financing,lessons,gov,health,p15,politics}
\kedges{cP}{p15}{hf,systems}
\kedges{cP}{barriers}{gov,hf,systems}
\kedges{cP}{p9}{p10,gov}
\kedges{cP}{p10}{finance,gov}
\kedges{cP}{p11}{outbreak,p13,gov,lessons,his}
\kedges{cP}{p12}{hwf,covid,lessons}
\kedges{cP}{outbreak}{p13,his,gov}
\kedges{cP}{covid}{p14,hwf,his}
\kedges{cP}{p13}{hsd,his,gov}
\kedges{cP}{p14}{his,hsd}
\kedges{cP}{his}{hsd,hwf}
\kedges{cP}{hsd}{hwf,p11}
\end{pgfonlayer}
% ---------- labels ----------
\begin{pgfonlayer}{labellayer}
\klab{hpao}{421}{35}{\szA}{health policies and all other}
\klab{qual}{804}{39}{\szA}{qualitative study}
\klab{hsr}{395}{188}{\szB}{health services research}
\klab{thai}{597}{96}{\szA}{thailand}
\klab{ghana}{845}{160}{\szC}{ghana}
\klab{lmic}{660}{202}{\szA}{lmic trends}
\klab{path}{738}{192}{\szA}{path}
\klab{oecd}{842}{216}{\szA}{oecd countries}
\klab{hecon}{706}{252}{\szF}{health economics}
\klab{devc}{741}{294}{\szA}{developing-countries}
\klab{deliv}{656}{338}{\szA}{delivery}
\klab{hfr}{461}{360}{\szA}{health financing reforms}
\klab{uganda}{431}{386}{\szB}{uganda}
\klab{ideas}{556}{458}{\szA}{ideas}
\klab{safr}{722}{455}{\szB}{south-africa}
\klab{hpol}{766}{404}{\szH}{health policy}
\klab{hf}{752}{610}{\szJ}{health financing}
\klab{hfs}{1152}{113}{\szA}{health financing system}
\klab{medic}{937}{191}{\szA}{medicines}
\klab{hosp}{1043}{206}{\szA}{hospital}
\klab{cancer}{1146}{226}{\szA}{cancer}
\klab{hosps}{1069}{271}{\szB}{hospitals}
\klab{cost}{1197}{298}{\szB}{cost}
\klab{system}{840}{357}{\szF}{system}
\klab{iran}{1097}{356}{\szD}{iran}
\klab{demand}{993}{369}{\szB}{demand}
\klab{costs}{1030}{411}{\szA}{costs}
\klab{equity}{922}{450}{\szF}{equity}
\klab{payments}{1210}{395}{\szB}{payments}
\klab{bangla}{1322}{417}{\szA}{bangladesh}
\klab{ineq}{1155}{473}{\szA}{inequality}
\klab{ineqs}{1271}{462}{\szA}{inequalities}
\klab{innov}{1113}{781}{\szA}{innovation}
\klab{patsat}{935}{992}{\szA}{patient satisfaction}
\klab{hse}{345}{246}{\szA}{health systems evaluation}
\klab{district}{483}{292}{\szB}{district}
\klab{zimb}{69}{372}{\szA}{zimbabwe}
\klab{review}{231}{377}{\szA}{review}
\klab{payment}{314}{388}{\szC}{payment}
\klab{rbf}{146}{400}{\szA}{results-based financing}
\klab{mat}{208}{426}{\szA}{maternal health}
\klab{ssa}{414}{424}{\szB}{sub-saharan africa}
\klab{lmi}{351}{452}{\szA}{low- and middle-income countri}
\klab{strat}{215}{482}{\szB}{strategic purchasing}
\klab{econ}{456}{485}{\szA}{economic evaluation}
\klab{phc}{330}{532}{\szA}{primary healthcare}
\klab{rwanda}{193}{547}{\szA}{rwanda}
\klab{services}{491}{536}{\szF}{services}
\klab{burundi}{121}{591}{\szA}{burundi}
\klab{incent}{305}{600}{\szC}{incentives}
\klab{quality}{481}{582}{\szF}{quality}
\klab{care}{784}{550}{\szI}{care}
\klab{program}{488}{619}{\szA}{program}
\klab{reform}{600}{487}{\szC}{reform}
\klab{heq}{652}{529}{\szD}{health equity}
\klab{impact}{816}{657}{\szG}{impact}
\klab{shp}{385}{786}{\szB}{strategic health purchasing}
\klab{politics}{795}{806}{\szB}{politics}
\klab{resal}{771}{836}{\szA}{resource allocation}
\klab{lessons}{750}{878}{\szE}{lessons}
\klab{hwf}{744}{978}{\szB}{health workforce}
\klab{impl}{458}{673}{\szE}{implementation}
\klab{sdg}{275}{706}{\szB}{sustainable development goals}
\klab{socp}{176}{756}{\szA}{social protection}
\klab{frag}{420}{844}{\szA}{fragmentation}
\klab{hiv}{481}{870}{\szB}{hiv}
\klab{phs}{360}{892}{\szA}{public health system}
\klab{ghf}{306}{927}{\szA}{global health financing}
\klab{barriers}{594}{742}{\szA}{barriers}
\klab{outcomes}{760}{780}{\szD}{outcomes}
\klab{outbreak}{615}{1006}{\szA}{outbreak}
\klab{covid}{785}{1016}{\szA}{covid}
\klab{his}{682}{1041}{\szA}{health information system}
\klab{hsd}{659}{1069}{\szA}{health service delivery}
\klab{gov}{568}{836}{\szE}{governance}
\klab{needs}{594}{871}{\szA}{needs}
\klab{research}{453}{942}{\szA}{research}
\klab{finance}{600}{925}{\szA}{finance}
\klab{invest}{800}{922}{\szA}{investment}
\klab{leader}{543}{974}{\szA}{leadership}
\klab{gburden}{600}{775}{\szA}{global burden}
\klab{aid}{868}{568}{\szA}{aid}
\klab{govt}{989}{553}{\szB}{government}
\klab{us}{1123}{552}{\szA}{united-states}
\klab{financing}{869}{698}{\szG}{financing}
\klab{coverage}{760}{488}{\szG}{coverage}
\klab{systems}{692}{694}{\szF}{systems}
\klab{disease}{744}{733}{\szA}{disease}
\klab{lmics}{896}{740}{\szA}{lmics}
\klab{asia}{980}{800}{\szA}{asia}
\klab{china}{1129}{740}{\szD}{china}
\klab{hexp}{1115}{812}{\szC}{health expenditure}
\klab{brics}{1252}{768}{\szA}{brics}
\klab{peco}{1349}{822}{\szA}{political-economy}
\klab{therapy}{1074}{712}{\szA}{therapy}
\klab{burden}{823}{745}{\szA}{burden}
\klab{health}{906}{797}{\szE}{health}
\klab{hcare}{1006}{869}{\szC}{health care}
\klab{mexico}{906}{946}{\szA}{mexico}
\klab{corrup}{997}{945}{\szA}{corruption}
\klab{france}{1187}{852}{\szA}{france}
\klab{pubpol}{1184}{908}{\szA}{public policy}
\klab{pcare}{1229}{934}{\szA}{primary care}
\klab{pandemic}{1194}{964}{\szB}{pandemic}
\klab{covid19}{1098}{675}{\szG}{covid-19}
\klab{pandemics}{1513}{495}{\szA}{pandemics}
\klab{csys}{1040}{327}{\szB}{care-system}
\klab{oop}{1298}{359}{\szA}{of-pocket payments}
\klab{risk}{1407}{387}{\szA}{risk}
\klab{determ}{1135}{443}{\szD}{determinants}
\klab{insur}{955}{501}{\szG}{insurance}
\klab{hsf}{1254}{524}{\szB}{health system financing}
\klab{income}{1174}{601}{\szD}{income}
\klab{brazil}{1241}{603}{\szA}{brazil}
\klab{crisis}{1311}{604}{\szC}{crisis}
\klab{techno}{1421}{590}{\szA}{technology}
\klab{consum}{1404}{655}{\szA}{consumption}
\klab{uhs}{1271}{705}{\szA}{unified health system}
\klab{egrowth}{1342}{739}{\szA}{economic-growth}
\klab{gfin}{1358}{770}{\szB}{green finance}
\klab{scheme}{537}{318}{\szA}{scheme}
\klab{zambia}{907}{319}{\szA}{zambia}
\end{pgfonlayer}
\end{tikzpicture}
\end{document}
